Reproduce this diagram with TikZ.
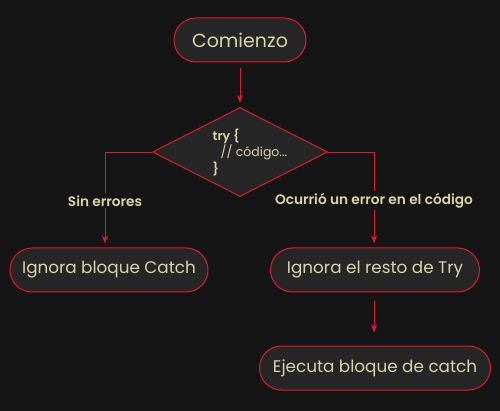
\documentclass[tikz,border=0pt]{standalone}
\usepackage{fontspec}
\setmainfont{Poppins}[BoldFont={Poppins SemiBold}]
\usetikzlibrary{shapes.geometric,arrows.meta}
\definecolor{bgc}{HTML}{151515}
\definecolor{boxc}{HTML}{262626}
\definecolor{redc}{HTML}{E3172F}
\definecolor{txtc}{HTML}{D9D7A8}

\begin{document}
\begin{tikzpicture}[x=1pt,y=-1pt,
    pnode/.style={draw=redc,fill=boxc,rounded corners=22pt,minimum height=44pt,inner sep=0pt,text=txtc,font=\fontsize{16.8}{20}\selectfont,line width=1pt},
    dnode/.style={draw=redc,fill=boxc,diamond,aspect=2,minimum width=175pt,minimum height=89pt,inner sep=0pt,line width=1pt},
    lbl/.style={fill=bgc,text=txtc,font=\fontsize{13.7}{16}\selectfont\bfseries,inner sep=2pt},
    arr/.style={draw=redc,line width=0.8pt,-{Stealth[length=8pt,width=6pt]}}]
    \fill[bgc] (0,0) rectangle (500,411);
    \useasboundingbox (0,0) rectangle (500,411);

    \node[pnode,minimum width=132pt] (start) at (240,40) {\fontsize{19}{20}\selectfont Comienzo};
    \node[dnode] (try) at (240,152) {};
    \node[align=left,text=txtc,font=\fontsize{12.5}{16.5}\selectfont] (trytxt) at (250,152)
        {\textbf{try \{}\\\hspace{8pt}// código...\\\textbf{\}}};
    \node[pnode,minimum width=198pt] (ignc) at (109,270) {Ignora bloque Catch};
    \node[pnode,minimum width=209pt] (ignt) at (375,270) {Ignora el resto de Try};
    \node[pnode,minimum width=231pt] (exec) at (375,368) {Ejecuta bloque de catch};

    \draw[arr,shorten <=6pt,shorten >=4pt] (start) -- (try);
    \draw[arr,shorten >=4pt] (try.west) -| node[pos=0.755,lbl] {Sin errores} (ignc.north -| 105,0);
    \draw[arr,shorten >=4pt] (try.east) -| node[pos=0.755,lbl] {Ocurrió un error en el código} (ignt.north -| 374,0);
    \draw[arr,shorten <=8pt,shorten >=13pt] (ignt.south -| 374,0) -- (exec.north -| 374,0);
\end{tikzpicture}
\end{document}
